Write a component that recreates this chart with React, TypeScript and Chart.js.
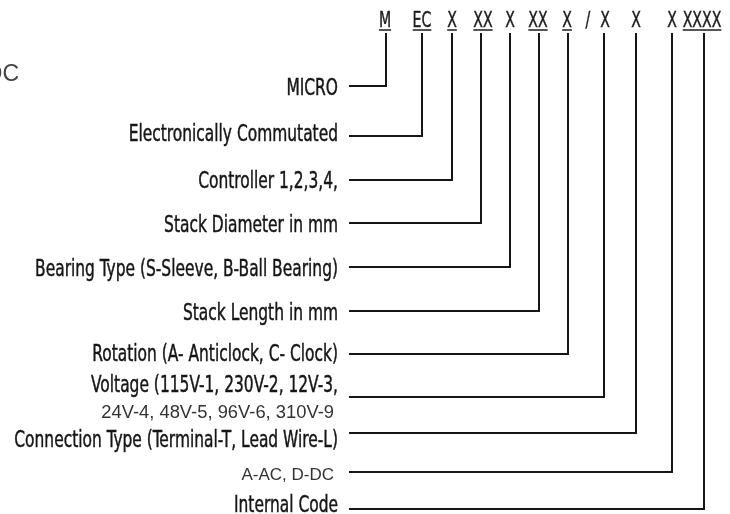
import { useEffect, useRef } from "react";
import { Chart, registerables } from "chart.js";

Chart.register(...registerables);

// Top code segments
const codes = ["M", "EC", "X", "XX", "X", "XX", "X", "X", "X", "X", "XXXX"];
const codeUnderlined = [true, true, true, true, false, true, true, false, false, false, true];
const codeX = [386, 422, 452, 481, 510, 539, 568, 604, 636, 672, 704];
const codeTextX = [385, 422, 452, 483, 510, 538, 567, 605, 636, 672, 702];
const slashX = 588;
const codeTopY = 33;
const codeBaseY = 27;

// Row descriptions (one per code segment)
const rowLabels = [
  "MICRO",
  "Electronically Commutated",
  "Controller 1,2,3,4,",
  "Stack Diameter in mm",
  "Bearing Type (S-Sleeve, B-Ball Bearing)",
  "Stack Length in mm",
  "Rotation (A- Anticlock, C- Clock)",
  "Voltage (115V-1, 230V-2, 12V-3,",
  "Connection Type (Terminal-T, Lead Wire-L)",
  "A-AC, D-DC",
  "Internal Code",
];
const rowLabelNarrow = [true, true, true, true, true, true, true, true, true, false, true];
const rowLineY = [86, 136, 180, 223, 267, 311, 354, 397, 433, 472, 509];
const rowLabelY = [95, 141, 188, 232, 276, 320, 361, 392, 447, 480, 512];
const lineStartX = 349;
const labelRightX = 338;

// Extra free text
const voltageCont = "24V-4, 48V-5, 96V-6, 310V-9";
const voltageContY = 418;
const cornerText = "DC";
const cornerTextX = 19;
const cornerTextY = 81;

const NARROW = "'DejaVu Sans Condensed', 'DejaVu Sans', sans-serif";
const SANS = "'Liberation Sans', Arial, sans-serif";
const SX = 0.747;

function drawText(
  ctx: CanvasRenderingContext2D,
  text: string,
  px: number,
  py: number,
  align: CanvasTextAlign,
  sx: number,
  bold = 0
) {
  ctx.save();
  ctx.translate(px, py);
  ctx.scale(sx, 1);
  ctx.textAlign = align;
  ctx.textBaseline = "alphabetic";
  ctx.fillText(text, 0, 0);
  if (bold > 0) {
    ctx.strokeStyle = ctx.fillStyle as string;
    ctx.lineWidth = bold;
    ctx.strokeText(text, 0, 0);
  }
  ctx.restore();
}

const textPlugin = {
  id: "diagramText",
  afterDatasetsDraw(chart: any) {
    const ctx: CanvasRenderingContext2D = chart.ctx;
    const xs = chart.scales.x;
    const ys = chart.scales.y;
    ctx.save();
    // top codes
    ctx.fillStyle = "#1c1c1c";
    ctx.strokeStyle = "#1c1c1c";
    ctx.font = `21px ${NARROW}`;
    codes.forEach((c, i) => {
      const px = xs.getPixelForValue(codeTextX[i]);
      const py = ys.getPixelForValue(codeBaseY);
      drawText(ctx, c, px, py, "center", SX, 0.4);
      if (codeUnderlined[i]) {
        const w = ctx.measureText(c).width * SX;
        ctx.lineWidth = 1.5;
        ctx.beginPath();
        ctx.moveTo(px - w / 2, py + 3);
        ctx.lineTo(px + w / 2, py + 3);
        ctx.stroke();
      }
    });
    drawText(ctx, "/", xs.getPixelForValue(slashX), ys.getPixelForValue(codeBaseY), "center", SX, 0.4);

    // row labels
    rowLabels.forEach((t, i) => {
      const py = ys.getPixelForValue(rowLabelY[i]);
      if (rowLabelNarrow[i]) {
        ctx.fillStyle = "#161616";
        ctx.font = `23px ${NARROW}`;
        drawText(ctx, t, xs.getPixelForValue(labelRightX), py, "right", SX, 0.45);
      } else {
        ctx.fillStyle = "#333";
        ctx.font = `17px ${SANS}`;
        drawText(ctx, t, xs.getPixelForValue(labelRightX - 4), py, "right", 1);
      }
    });
    ctx.fillStyle = "#333";
    ctx.font = `18px ${SANS}`;
    drawText(ctx, voltageCont, xs.getPixelForValue(labelRightX - 4), ys.getPixelForValue(voltageContY), "right", 1.02);

    ctx.fillStyle = "#444";
    ctx.font = `23px ${SANS}`;
    drawText(ctx, cornerText, xs.getPixelForValue(cornerTextX), ys.getPixelForValue(cornerTextY), "right", 1);
    ctx.restore();
  },
};

export default function App() {
  const ref = useRef<HTMLCanvasElement | null>(null);
  useEffect(() => {
    if (!ref.current) return;
    const datasets = rowLabels.map((_, i) => ({
      label: rowLabels[i],
      data: [
        { x: lineStartX, y: rowLineY[i] },
        { x: codeX[i], y: rowLineY[i] },
        { x: codeX[i], y: codeTopY },
      ],
      showLine: true,
      borderColor: "#161616",
      borderWidth: 2,
      pointRadius: 0,
      tension: 0,
      fill: false,
      borderJoinStyle: "miter" as const,
      borderCapStyle: "butt" as const,
    }));
    const chart = new Chart(ref.current, {
      type: "scatter",
      data: { datasets },
      options: {
        animation: false,
        responsive: false,
        maintainAspectRatio: false,
        layout: { padding: 0 },
        plugins: { legend: { display: false }, tooltip: { enabled: false } },
        scales: {
          x: { type: "linear", min: 0, max: 730, display: false },
          y: { type: "linear", min: 0, max: 514, reverse: true, display: false },
        },
      },
      plugins: [textPlugin],
    });
    return () => chart.destroy();
  }, []);
  return (
    <div style={{ position: "fixed", left: 0, top: 0, width: 730, height: 514, background: "#fff" }}>
      <canvas ref={ref} width={730} height={514} style={{ display: "block" }} />
    </div>
  );
}
